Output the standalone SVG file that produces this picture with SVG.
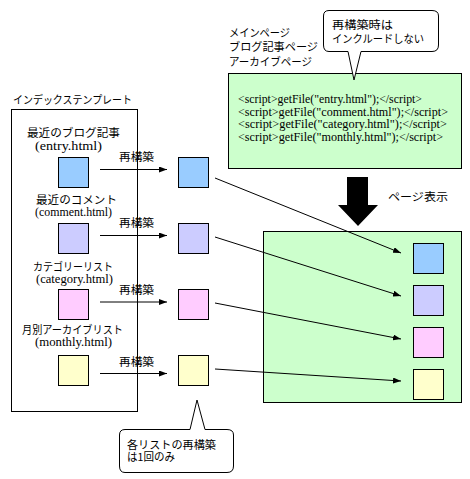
<svg xmlns="http://www.w3.org/2000/svg" width="470" height="479" viewBox="0 0 470 479">
<defs>
<marker id="ah" markerWidth="8" markerHeight="6" refX="8" refY="3" orient="auto" markerUnits="userSpaceOnUse"><path d="M0,0 L8,3 L0,6 Z" fill="#000"/></marker>
</defs>
<style>
.jp{font-family:"Noto Sans CJK JP","Noto Sans",sans-serif;font-size:11px;fill:#000}
.sf{font-family:"Liberation Serif","Noto Sans CJK JP",serif;font-size:11.5px;fill:#000}
.box{stroke:#000;stroke-width:1}
.ln{stroke:#000;stroke-width:1;fill:none;marker-end:url(#ah)}
.blue{fill:#99CCFF}.lav{fill:#CCCCFF}.pink{fill:#FFCCFF}.yel{fill:#FFFFCC}.grn{fill:#CCFFCC}
</style>
<rect width="470" height="479" fill="#fff"/>

<g id="index-template">
<text class="jp" x="13" y="104" textLength="119" lengthAdjust="spacingAndGlyphs">インデックステンプレート</text>
<rect class="box" x="11.5" y="109.5" width="126" height="302" fill="none"/>
</g>

<g id="item-entry">
<text class="jp" x="27" y="137" textLength="93" lengthAdjust="spacingAndGlyphs">最近のブログ記事</text>
<text class="sf" x="35" y="150" textLength="67" lengthAdjust="spacingAndGlyphs">(entry.html)</text>
<rect class="box blue" x="58.5" y="157.5" width="30" height="30"/>
</g>
<g id="item-comment">
<text class="jp" x="36" y="204" textLength="81" lengthAdjust="spacingAndGlyphs">最近のコメント</text>
<text class="sf" x="35" y="216" textLength="77" lengthAdjust="spacingAndGlyphs">(comment.html)</text>
<rect class="box lav" x="58.5" y="223.5" width="30" height="30"/>
</g>
<g id="item-category">
<text class="jp" x="33" y="271" textLength="80" lengthAdjust="spacingAndGlyphs">カテゴリーリスト</text>
<text class="sf" x="36" y="282.5" textLength="77" lengthAdjust="spacingAndGlyphs">(category.html)</text>
<rect class="box pink" x="58.5" y="289.5" width="30" height="30"/>
</g>
<g id="item-monthly">
<text class="jp" x="22" y="334" textLength="101" lengthAdjust="spacingAndGlyphs">月別アーカイブリスト</text>
<text class="sf" x="35" y="346" textLength="77" lengthAdjust="spacingAndGlyphs">(monthly.html)</text>
<rect class="box yel" x="58.5" y="355.5" width="30" height="30"/>
</g>

<g id="rebuilt-entry"><rect class="box blue" x="178.5" y="157.5" width="30" height="30"/></g>
<g id="rebuilt-comment"><rect class="box lav" x="178.5" y="223.5" width="30" height="30"/></g>
<g id="rebuilt-category"><rect class="box pink" x="178.5" y="289.5" width="30" height="30"/></g>
<g id="rebuilt-monthly"><rect class="box yel" x="178.5" y="355.5" width="30" height="30"/></g>

<g id="code-box">
<text class="jp" x="229" y="37" textLength="61" lengthAdjust="spacingAndGlyphs">メインページ</text>
<text class="jp" x="229" y="51" textLength="89" lengthAdjust="spacingAndGlyphs">ブログ記事ページ</text>
<text class="jp" x="229" y="66" textLength="83" lengthAdjust="spacingAndGlyphs">アーカイブページ</text>
<rect class="box grn" x="228.5" y="73.5" width="233" height="95"/>
<text class="sf" x="238" y="103" textLength="184" lengthAdjust="spacingAndGlyphs">&lt;script&gt;getFile("entry.html");&lt;/script&gt;</text>
<text class="sf" x="238" y="115.5" textLength="210" lengthAdjust="spacingAndGlyphs">&lt;script&gt;getFile("comment.html");&lt;/script&gt;</text>
<text class="sf" x="238" y="128" textLength="209" lengthAdjust="spacingAndGlyphs">&lt;script&gt;getFile("category.html");&lt;/script&gt;</text>
<text class="sf" x="238" y="140.5" textLength="205" lengthAdjust="spacingAndGlyphs">&lt;script&gt;getFile("monthly.html");&lt;/script&gt;</text>
</g>

<g id="callout-top">
<path class="box" fill="#fff" d="M329,10.5 H432 Q438.5,10.5 438.5,16 V45 Q438.5,51.5 432,51.5 H361 L354,80 L348,51.5 H329 Q323.5,51.5 323.5,45 V16 Q323.5,10.5 329,10.5 Z"/>
<text class="jp" x="332" y="29" textLength="61" lengthAdjust="spacingAndGlyphs">再構築時は</text>
<text class="jp" x="332" y="43" textLength="92" lengthAdjust="spacingAndGlyphs">インクルードしない</text>
</g>

<g id="page-display-arrow">
<polygon points="347,177 368,177 368,205 378,205 358,226 338,205 347,205" fill="#000"/>
<text class="jp" x="388" y="201" textLength="60" lengthAdjust="spacingAndGlyphs">ページ表示</text>
</g>

<g id="page-box">
<rect class="box grn" x="263.5" y="231.5" width="198" height="171"/>
<rect class="box blue" x="413.5" y="243.5" width="30" height="30"/>
<rect class="box lav" x="413.5" y="285.5" width="30" height="30"/>
<rect class="box pink" x="413.5" y="327.5" width="30" height="30"/>
<rect class="box yel" x="413.5" y="369.5" width="30" height="30"/>
</g>

<g id="connectors">
<line class="ln" x1="100" y1="169.5" x2="167" y2="169.5"/>
<line class="ln" x1="100" y1="235.5" x2="167" y2="235.5"/>
<line class="ln" x1="100" y1="302" x2="167" y2="302"/>
<line class="ln" x1="100" y1="373.5" x2="167" y2="373.5"/>
<text class="jp" x="119" y="161" textLength="35" lengthAdjust="spacingAndGlyphs">再構築</text>
<text class="jp" x="119" y="227" textLength="35" lengthAdjust="spacingAndGlyphs">再構築</text>
<text class="jp" x="119" y="294" textLength="35" lengthAdjust="spacingAndGlyphs">再構築</text>
<text class="jp" x="119" y="366" textLength="35" lengthAdjust="spacingAndGlyphs">再構築</text>
<line class="ln" x1="215" y1="178" x2="401" y2="253"/>
<line class="ln" x1="215" y1="237" x2="401" y2="296"/>
<line class="ln" x1="215" y1="303" x2="401" y2="339"/>
<line class="ln" x1="215" y1="369" x2="401" y2="381"/>
</g>

<g id="callout-bottom">
<path class="box" fill="#fff" d="M125,429.5 H190 L197,400 L205,429.5 H227 Q233.5,429.5 233.5,435 V466 Q233.5,472.5 227,472.5 H125 Q119.5,472.5 119.5,466 V435 Q119.5,429.5 125,429.5 Z"/>
<text class="jp" x="127" y="449" textLength="89" lengthAdjust="spacingAndGlyphs">各リストの再構築</text>
<text class="jp" x="127" y="461" textLength="48" lengthAdjust="spacingAndGlyphs">は1回のみ</text>
</g>
</svg>
